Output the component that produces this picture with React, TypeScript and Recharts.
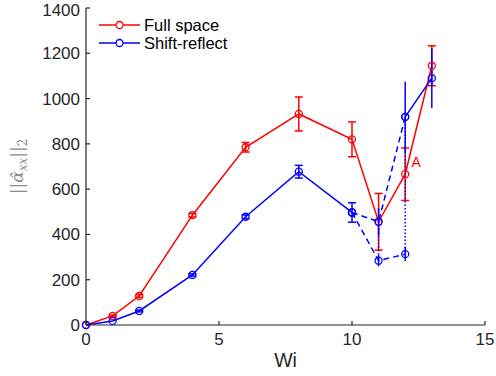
import { LineChart, Line, XAxis, YAxis, ErrorBar, Legend, ReferenceDot } from "recharts"

const RED = "#ff0000"
const BLUE = "#0000ff"
const AXIS = "#262626"
const FONT = "'Liberation Sans', Arial, Helvetica, sans-serif"

// Full space run
const wiFull = [0, 1, 2, 4, 6, 8, 10, 11, 12, 13]
const fullSpace = [0, 40, 128, 485, 785, 932, 820, 456, 666, 1145]
const fullSpaceErr = [0, 4, 6, 8, 21, 75, 77, 125, 116, 88]

// Shift-reflect run up to Wi = 10
const wiShift = [0, 1, 2, 4, 6, 8, 10]
const shiftReflect = [0, 18, 62, 221, 478, 677, 497]
const shiftReflectErr = [0, 0, 4, 5, 8, 28, 43]

// Shift-reflect splits into two branches after Wi = 10
const wiBranch = [10, 11, 12]
const upperBranch = [497, 456, 919]
const upperErr = [0, 60, 0]
const lowerBranch = [497, 284, 313]
const lowerErr = [0, 25, 30]

// upper branch continues to Wi = 13
const wiTail = [12, 13]
const tailValues = [919, 1090]
const tailErr = [155, 132]

const xTicks = [0, 5, 10, 15]
const yTicks = [0, 200, 400, 600, 800, 1000, 1200, 1400]

const noteA = { x: 12.41, y: 720, text: "A" }

const legendItems = [
  { name: "Full space", color: RED },
  { name: "Shift-reflect", color: BLUE },
]

type Pt = { x: number; y: number; err: number }

const toPoints = (xs: number[], ys: number[], errs?: number[]): Pt[] =>
  xs.map((x, i) => ({ x, y: ys[i], err: errs ? errs[i] : 0 }))

const fullData = toPoints(wiFull, fullSpace, fullSpaceErr)
const shiftData = toPoints(wiShift, shiftReflect, shiftReflectErr)
const upperData = toPoints(wiBranch, upperBranch, upperErr)
const lowerData = toPoints(wiBranch, lowerBranch, lowerErr)
const tailData = toPoints(wiTail, tailValues, tailErr)

// dotted connectors between the two branches at the same Wi
const splitLinks = wiBranch.slice(1).map((x, i) => [
  { x, y: upperBranch[i + 1] },
  { x, y: lowerBranch[i + 1] },
])

const marker = (color: string) => ({
  r: 3.5,
  fill: "none",
  stroke: color,
  strokeWidth: 1.3,
  strokeDasharray: "none",
})

// legend drawn as plain svg so the sample lines and labels sit where expected
function LegendBox() {
  return (
    <svg width={200} height={36} style={{ display: "block" }}>
      {legendItems.map((item, i) => {
        const y = 9 + i * 18
        return (
          <g key={item.name}>
            <line x1={0} y1={y} x2={41} y2={y} stroke={item.color} strokeWidth={1.5} />
            <circle cx={20.5} cy={y} r={3.5} fill="white" stroke={item.color} strokeWidth={1.3} />
            <text x={45} y={y + 5.5} fontFamily={FONT} fontSize={16.5} fill="#000">
              {item.name}
            </text>
          </g>
        )
      })}
    </svg>
  )
}

function YLabel({ viewBox }: any) {
  const cx = viewBox.x + 23
  const cy = viewBox.y + viewBox.height / 2
  return (
    <text
      x={cx}
      y={cy}
      transform={`rotate(-90 ${cx} ${cy})`}
      textAnchor="middle"
      fill="#8a8a8a"
      fontFamily="'DejaVu Serif', 'Liberation Serif', serif"
      fontSize={17}
    >
      <tspan>||</tspan>
      <tspan fontStyle="italic">α̂</tspan>
      <tspan fontStyle="italic" fontSize={12} dy={4}>xx</tspan>
      <tspan dy={-4}>||</tspan>
      <tspan fontSize={12} dy={4}>2</tspan>
    </text>
  )
}

function XLabel({ viewBox }: any) {
  return (
    <text
      x={viewBox.x + viewBox.width / 2}
      y={viewBox.y + 42}
      textAnchor="middle"
      fill={AXIS}
      fontFamily={FONT}
      fontSize={19.5}
    >
      Wi
    </text>
  )
}

const tickStyle = { fill: AXIS, fontSize: 17, fontFamily: FONT }

export default function App() {
  return (
    <div style={{ position: "absolute", left: 0, top: 0, background: "#fff" }}>
      <LineChart width={496} height={376} margin={{ top: 8, right: 11, bottom: 0, left: 0 }}>
        <XAxis
          type="number"
          dataKey="x"
          domain={[0, 15]}
          ticks={xTicks}
          height={51}
          tickSize={-4}
          tickMargin={12}
          stroke={AXIS}
          strokeWidth={1.2}
          tick={tickStyle}
          label={<XLabel />}
        />
        <XAxis
          xAxisId="top"
          orientation="top"
          type="number"
          domain={[0, 15]}
          ticks={xTicks}
          height={0}
          tickSize={-4}
          stroke={AXIS}
          strokeWidth={1.2}
          tick={false}
        />
        <YAxis
          type="number"
          domain={[0, 1400]}
          ticks={yTicks}
          width={86}
          tickSize={-4}
          tickMargin={10}
          stroke={AXIS}
          strokeWidth={1.2}
          tick={tickStyle}
          label={<YLabel />}
        />
        <YAxis
          yAxisId="right"
          orientation="right"
          type="number"
          domain={[0, 1400]}
          ticks={yTicks}
          width={0}
          tickSize={-4}
          stroke={AXIS}
          strokeWidth={1.2}
          tick={false}
        />
        <Legend
          layout="vertical"
          align="center"
          verticalAlign="middle"
          wrapperStyle={{ left: 99, top: 16, width: 200, height: 36 }}
          content={<LegendBox />}
        />

        <Line
          data={fullData}
          dataKey="y"
          stroke={RED}
          strokeWidth={1.5}
          dot={marker(RED)}
          activeDot={false}
          isAnimationActive={false}
        >
          <ErrorBar dataKey="err" direction="y" width={4} stroke={RED} strokeWidth={1.5} />
        </Line>

        {splitLinks.map((link, i) => (
          <Line
            key={`link-${i}`}
            data={link}
            dataKey="y"
            stroke={BLUE}
            strokeWidth={1.5}
            strokeDasharray="1.5 2"
            dot={false}
            activeDot={false}
            isAnimationActive={false}
          />
        ))}

        <Line
          data={shiftData}
          dataKey="y"
          stroke={BLUE}
          strokeWidth={1.5}
          dot={marker(BLUE)}
          activeDot={false}
          isAnimationActive={false}
        >
          <ErrorBar dataKey="err" direction="y" width={4} stroke={BLUE} strokeWidth={1.5} />
        </Line>
        <Line
          data={upperData}
          dataKey="y"
          stroke={BLUE}
          strokeWidth={1.5}
          strokeDasharray="6 4"
          dot={marker(BLUE)}
          activeDot={false}
          isAnimationActive={false}
        >
          <ErrorBar dataKey="err" direction="y" width={0} stroke={BLUE} strokeWidth={1.5} />
        </Line>
        <Line
          data={lowerData}
          dataKey="y"
          stroke={BLUE}
          strokeWidth={1.5}
          strokeDasharray="6 4"
          dot={marker(BLUE)}
          activeDot={false}
          isAnimationActive={false}
        >
          <ErrorBar dataKey="err" direction="y" width={0} stroke={BLUE} strokeWidth={1.5} />
        </Line>
        <Line
          data={tailData}
          dataKey="y"
          stroke={BLUE}
          strokeWidth={1.5}
          dot={marker(BLUE)}
          activeDot={false}
          isAnimationActive={false}
        >
          <ErrorBar dataKey="err" direction="y" width={0} stroke={BLUE} strokeWidth={1.5} />
        </Line>

        <ReferenceDot
          x={noteA.x}
          y={noteA.y}
          r={0}
          fill="none"
          stroke="none"
          label={{ value: noteA.text, position: "center", fill: RED, fontSize: 14, fontFamily: FONT }}
        />
      </LineChart>
    </div>
  )
}
